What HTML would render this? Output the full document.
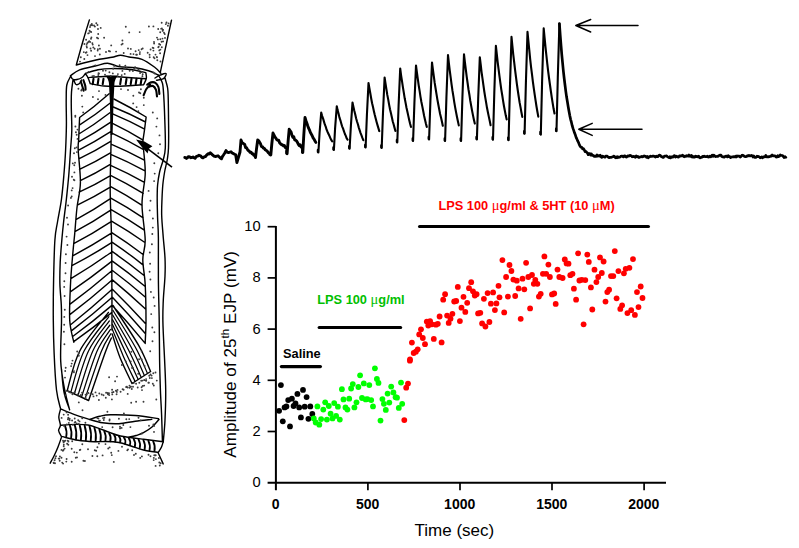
<!DOCTYPE html>
<html><head><meta charset="utf-8"><title>Figure</title>
<style>html,body{margin:0;padding:0;background:#fff}svg{display:block}</style></head>
<body>
<svg width="799" height="548" viewBox="0 0 799 548">
<rect width="799" height="548" fill="#fff"/>
<defs><filter id="soft" x="0" y="0" width="799" height="548" filterUnits="userSpaceOnUse"><feGaussianBlur stdDeviation="0.42"/></filter></defs>
<path d="M184.8,157.5 L185.7,157.6 L186.5,158.4 L187.5,157.6 L188.5,156.6 L189.8,157.0 L191.0,157.7 L192.0,157.5 L193.0,157.0 L194.0,157.8 L195.0,158.3 L196.2,156.6 L197.5,156.2 L199.0,155.3 L200.5,155.8 L201.8,157.3 L203.0,157.8 L204.2,156.8 L205.5,156.5 L206.8,154.8 L208.0,153.8 L209.2,154.0 L210.3,152.8 L211.4,153.8 L212.5,154.9 L214.0,156.2 L215.5,156.5 L216.8,156.1 L218.0,155.8 L219.8,157.5 L221.5,158.8 L222.5,156.4 L223.5,155.0 L224.8,153.0 L226.0,150.6 L227.2,152.1 L228.5,152.6 L229.8,152.2 L231.0,151.8 L232.2,153.0 L233.5,153.6 L234.6,154.3 L235.6,154.6 L236.2,158.0 L236.9,162.6 L240.0,152.0 L241.0,140.0 L241.9,142.1 L242.8,143.1 L243.7,143.8 L244.7,144.5 L245.6,147.5 L246.5,147.7 L247.4,149.3 L248.3,150.6 L249.2,151.1 L250.1,152.4 L251.0,152.1 L252.0,153.7 L252.9,153.6 L253.8,155.3 L254.7,155.8 L255.1,156.2 L255.5,157.5 L256.5,148.8 L257.7,140.0 L258.6,140.6 L259.6,142.2 L260.5,143.7 L261.5,146.6 L262.4,146.6 L263.4,148.1 L264.3,148.4 L265.3,149.8 L266.2,150.4 L267.2,151.2 L268.1,152.5 L269.1,153.2 L270.0,154.6 L270.4,154.9 L270.8,155.0 L271.8,144.0 L273.0,133.0 L273.9,134.9 L274.9,136.9 L275.8,138.1 L276.8,139.7 L277.7,140.2 L278.7,140.2 L279.6,142.7 L280.6,143.9 L281.5,144.7 L282.5,144.8 L283.4,145.9 L284.4,145.5 L285.3,147.6 L286.2,147.7 L286.6,148.7 L287.1,153.7 L288.1,141.4 L289.2,129.2 L290.2,130.7 L291.1,132.0 L292.0,135.4 L292.9,137.3 L293.8,136.8 L294.7,139.8 L295.6,140.2 L296.5,140.9 L297.4,142.3 L298.4,144.4 L299.3,145.7 L300.2,144.8 L301.1,146.9 L302.0,146.5 L302.4,148.7 L302.8,152.5 L303.8,135.0 L305.0,117.5 L305.9,120.5 L306.8,122.9 L307.7,125.8 L308.6,128.2 L309.5,130.1 L310.4,132.6 L311.3,134.1 L312.2,135.8 L313.1,137.9 L314.0,139.1 L314.9,140.8 L315.8,142.4" fill="none" stroke="#000" stroke-width="2.9" stroke-linejoin="round" stroke-linecap="round"/>
<path d="M318.4,152.5 L319.6,132.5 L321.2,112.5 L322.1,115.8 L323.1,118.6 L323.9,121.4 L324.9,124.7 L325.8,126.9 L326.6,129.7 L327.6,132.0 L328.4,133.7 L329.4,135.8 L330.2,137.7 L331.1,139.6 L332.1,141.3 M333.9,150.0 L335.1,128.1 L336.8,106.2 L337.6,110.1 L338.6,113.7 L339.4,117.4 L340.4,120.3 L341.2,123.2 L342.1,126.3 L343.1,128.6 L343.9,131.2 L344.9,134.0 L345.8,135.9 L346.6,138.1 L347.6,139.7 M349.6,148.7 L350.9,125.6 L352.5,102.5 L353.4,106.7 L354.3,110.8 L355.2,114.2 L356.1,118.2 L357.0,121.5 L357.9,124.3 L358.8,127.6 L359.7,130.3 L360.6,133.1 L361.5,135.4 L362.4,137.9 L363.3,140.2 M365.6,147.5 L366.9,115.2 L368.5,83.0 L369.4,88.1 L370.3,93.3 L371.2,98.5 L372.1,103.3 L373.0,107.1 L373.9,111.2 L374.8,115.1 L375.7,118.5 L376.6,121.9 L377.5,125.1 L378.4,128.1 L379.3,131.1 M381.7,148.0 L383.0,112.8 L384.6,77.5 L385.5,83.4 L386.4,89.2 L387.3,94.9 L388.2,99.4 L389.1,104.6 L390.0,109.2 L390.9,113.1 L391.8,117.0 L392.7,121.2 L393.6,124.3 L394.5,127.6 L395.4,131.0 M397.3,142.5 L398.6,105.5 L400.2,68.5 L401.1,75.3 L402.0,81.1 L402.9,87.2 L403.8,92.7 L404.7,98.3 L405.6,102.9 L406.5,107.8 L407.4,111.7 L408.3,115.9 L409.2,120.0 L410.1,123.8 L411.0,127.0 M413.1,141.0 L414.4,103.2 L416.0,65.5 L416.9,72.3 L417.8,78.8 L418.7,85.3 L419.6,90.9 L420.5,96.8 L421.4,102.0 L422.3,106.4 L423.2,111.0 L424.1,115.7 L425.0,119.7 L425.9,123.6 L426.8,126.9 M429.1,139.5 L430.4,101.0 L432.0,62.5 L432.9,69.4 L433.8,76.2 L434.7,82.9 L435.6,88.5 L436.5,94.2 L437.4,99.6 L438.3,104.5 L439.2,109.2 L440.1,114.0 L441.0,117.6 L441.9,121.5 L442.8,125.8 M445.1,141.0 L446.4,98.0 L448.0,55.0 L448.9,63.3 L449.8,70.9 L450.7,77.6 L451.6,84.6 L452.5,90.9 L453.4,96.3 L454.3,102.3 L455.2,107.6 L456.1,112.4 L457.0,117.0 L457.9,121.2 L458.8,125.4 M461.1,141.0 L462.4,97.7 L464.0,54.4 L464.9,62.0 L465.8,69.3 L466.7,76.6 L467.6,83.0 L468.5,89.5 L469.4,94.8 L470.3,100.9 L471.2,105.9 L472.1,110.9 L473.0,115.4 L473.9,119.7 L474.8,123.6 M476.9,139.5 L478.2,98.3 L479.8,57.2 L480.7,64.5 L481.6,72.3 L482.5,78.7 L483.4,85.2 L484.3,91.5 L485.2,97.1 L486.1,102.4 L487.0,107.8 L487.9,112.3 L488.8,116.6 L489.7,120.8 L490.6,125.2 M493.0,139.7 L494.3,92.8 L495.9,45.8 L496.8,54.2 L497.7,62.3 L498.6,69.4 L499.5,76.3 L500.4,83.1 L501.3,89.6 L502.2,95.0 L503.1,100.9 L504.0,106.2 L504.9,111.0 L505.8,115.6 L506.7,119.4 M508.6,140.2 L509.9,88.5 L511.5,36.8 L512.4,46.0 L513.3,54.8 L514.2,62.3 L515.1,70.1 L516.0,77.2 L516.9,84.2 L517.8,90.5 L518.7,96.5 L519.6,102.4 L520.5,107.1 L521.4,112.2 L522.3,116.9 M524.6,133.8 L525.9,82.8 L527.5,31.8 L528.4,41.2 L529.3,50.2 L530.2,59.4 L531.1,67.3 L532.0,74.4 L532.9,81.8 L533.8,88.4 L534.7,94.7 L535.6,100.7 L536.5,106.5 L537.4,111.8 L538.3,116.6 M540.8,134.6 L542.1,81.5 L543.7,28.4 L544.6,37.9 L545.5,47.1 L546.4,55.5 L547.3,63.9 L548.2,71.6 L549.1,78.5 L550.0,85.0 L550.9,91.5 L551.8,97.6 L552.7,103.4 L553.6,108.8 L554.5,113.5 M556.5,131.3 L557.8,77.5 L559.4,23.7" fill="none" stroke="#000" stroke-width="2.1" stroke-linejoin="round" stroke-linecap="round"/>
<path d="M559.4,23.7 L560.2,34.8 L561.0,45.2 L561.8,54.8 L562.6,63.2 L563.4,71.4 L564.2,78.5 L565.0,85.0 L565.8,91.4 L566.6,97.1 L567.4,101.8 L568.2,106.8 L569.0,111.2 L569.8,115.6 L570.6,119.3 L571.4,122.2 L572.2,125.7 L573.0,128.4 L573.8,130.6 L574.6,133.1 L575.4,135.1 L576.2,137.6 L577.0,139.3 L577.8,141.2 L578.6,142.7 L579.4,144.9 L580.2,146.4 L581.0,147.2 L581.8,147.3 L582.6,148.9 L583.4,148.6 L584.2,149.7 L585.0,151.6 L585.8,151.3 L586.6,152.2 L587.4,152.9 L588.2,154.7 L589.0,153.7 L589.8,153.6 L590.6,155.0 L591.4,153.8 L592.2,155.3 L593.0,155.4 L593.8,156.0 L594.6,156.5 L595.4,156.0 L596.2,156.4 L597.0,155.0 L597.8,156.1 L598.6,155.6 L599.4,156.0 L600.2,155.2 L601.0,156.7 L601.8,157.4 L602.6,156.1 L603.4,156.6 L604.2,156.9 L605.0,157.2 L605.8,156.1 L606.6,156.0 L607.4,156.3 L608.2,157.2 L609.0,157.7 L609.8,157.4 L610.6,157.4 L611.4,157.3 L612.2,157.0 L613.0,156.8 L613.8,156.1 L614.6,156.8 L615.4,157.7 L616.2,156.9 L617.0,157.7 L617.8,156.7 L618.6,157.5 L619.4,157.3 L620.2,156.8 L621.0,156.2 L621.8,156.0 L622.6,156.3 L623.4,156.9 L624.2,155.9 L625.0,155.9 L625.8,157.0 L626.6,157.1 L627.4,156.2 L628.2,155.8 L629.0,156.2 L629.8,155.3 L630.6,155.7 L631.4,155.9 L632.2,156.8 L633.0,156.5 L633.8,156.4 L634.6,157.0 L635.4,157.3 L636.2,156.0 L637.0,156.7 L637.8,156.4 L638.6,157.4 L639.4,157.3 L640.2,156.9 L641.0,156.9 L641.8,156.4 L642.6,156.9 L643.4,156.5 L644.2,155.9 L645.0,156.3 L645.8,156.3 L646.6,157.3 L647.4,156.4 L648.2,157.8 L649.0,156.8 L649.8,156.7 L650.6,156.1 L651.4,156.5 L652.2,156.4 L653.0,156.0 L653.8,156.0 L654.6,156.6 L655.4,157.0 L656.2,156.2 L657.0,156.6 L657.8,156.7 L658.6,155.7 L659.4,155.2 L660.2,155.3 L661.0,156.4 L661.8,156.6 L662.6,157.4 L663.4,157.4 L664.2,156.3 L665.0,156.1 L665.8,156.0 L666.6,155.8 L667.4,156.7 L668.2,157.1 L669.0,157.5 L669.8,156.7 L670.6,157.9 L671.4,156.9 L672.2,156.9 L673.0,157.2 L673.8,155.8 L674.6,155.7 L675.4,157.0 L676.2,156.2 L677.0,156.5 L677.8,157.0 L678.6,157.2 L679.4,155.8 L680.2,156.1 L681.0,155.9 L681.8,155.8 L682.6,155.2 L683.4,156.0 L684.2,156.8 L685.0,156.1 L685.8,156.4 L686.6,155.7 L687.4,155.8 L688.2,156.2 L689.0,155.0 L689.8,156.3 L690.6,156.5 L691.4,155.4 L692.2,157.1 L693.0,156.4 L693.8,157.2 L694.6,157.2 L695.4,156.2 L696.2,156.7 L697.0,156.5 L697.8,156.9 L698.6,156.1 L699.4,157.3 L700.2,157.9 L701.0,157.5 L701.8,157.3 L702.6,156.3 L703.4,156.7 L704.2,156.2 L705.0,156.7 L705.8,156.7 L706.6,156.6 L707.4,156.2 L708.2,157.1 L709.0,157.0 L709.8,156.1 L710.6,156.9 L711.4,156.2 L712.2,155.1 L713.0,156.4 L713.8,155.2 L714.6,155.8 L715.4,156.6 L716.2,156.5 L717.0,156.4 L717.8,156.4 L718.6,155.8 L719.4,155.4 L720.2,155.1 L721.0,155.1 L721.8,156.5 L722.6,156.9 L723.4,156.8 L724.2,157.2 L725.0,156.5 L725.8,156.2 L726.6,156.2 L727.4,156.9 L728.2,155.6 L729.0,156.6 L729.8,156.5 L730.6,157.6 L731.4,157.0 L732.2,156.9 L733.0,156.8 L733.8,156.7 L734.6,156.9 L735.4,156.1 L736.2,157.0 L737.0,155.9 L737.8,156.3 L738.6,156.1 L739.4,156.1 L740.2,157.0 L741.0,156.6 L741.8,155.4 L742.6,155.2 L743.4,155.5 L744.2,156.2 L745.0,156.6 L745.8,156.7 L746.6,156.5 L747.4,155.7 L748.2,155.9 L749.0,155.3 L749.8,155.8 L750.6,155.8 L751.4,155.4 L752.2,155.8 L753.0,157.0 L753.8,156.0 L754.6,157.4 L755.4,157.4 L756.2,157.3 L757.0,156.2 L757.8,156.4 L758.6,156.6 L759.4,156.9 L760.2,157.8 L761.0,157.5 L761.8,156.9 L762.6,157.8 L763.4,156.9 L764.2,156.8 L765.0,156.8 L765.8,155.4 L766.6,156.8 L767.4,156.8 L768.2,156.7 L769.0,156.8 L769.8,156.6 L770.6,155.9 L771.4,156.2 L772.2,155.0 L773.0,155.7 L773.8,155.9 L774.6,155.8 L775.4,156.2 L776.2,157.1 L777.0,157.0 L777.8,155.6 L778.6,156.6 L779.4,156.1 L780.2,155.0 L781.0,155.5 L781.8,155.5 L782.6,155.6 L783.4,156.7 L784.2,157.6 L785.0,156.6 L785.8,157.4" fill="none" stroke="#000" stroke-width="2.7" stroke-linejoin="round" stroke-linecap="round"/>
<path d="M286.4,151.4V153.6 M302.2,150.2V152.4 M317.9,149.9V152.1 M333.4,147.4V149.6 M349.2,146.1V148.3 M365.2,144.9V147.1 M381.3,145.4V147.6 M396.9,139.9V142.1 M412.7,138.4V140.6 M428.7,136.9V139.1 M444.7,138.4V140.6 M460.7,138.4V140.6 M476.5,136.9V139.1 M492.6,137.1V139.3 M508.2,137.6V139.8 M524.2,131.2V133.4 M540.4,132.0V134.2 M556.1,128.7V130.9" fill="none" stroke="#000" stroke-width="2.3" stroke-linecap="round"/>
<g fill="none" stroke="#000" stroke-width="1.5" stroke-linecap="round" stroke-linejoin="round">
<path d="M638,25.5 H576 M590.7,19.5 L575.8,25.5 L590.7,32"/>
<path d="M642,129.2 H579 M592.2,123.4 L578.8,129.2 L592.2,135.4"/>
</g>
<g stroke="#000" fill="none">
<path d="M275.9,226 V490.2" stroke-width="2"/>
<path d="M267.6,482.7 H666" stroke-width="2"/>
<path d="M267.6,431.5 H275.9" stroke-width="1.7"/>
<path d="M267.6,380.3 H275.9" stroke-width="1.7"/>
<path d="M267.6,329.1 H275.9" stroke-width="1.7"/>
<path d="M267.6,277.9 H275.9" stroke-width="1.7"/>
<path d="M267.6,226.7 H275.9" stroke-width="1.7"/>
<path d="M367.9,482.7 V490.2" stroke-width="1.7"/>
<path d="M460.0,482.7 V490.2" stroke-width="1.7"/>
<path d="M552.0,482.7 V490.2" stroke-width="1.7"/>
<path d="M644.1,482.7 V490.2" stroke-width="1.7"/>
</g>
<g font-family="&quot;Liberation Sans&quot;, Arial, sans-serif" fill="#000">
<text x="260.6" y="487.2" font-size="14.7" text-anchor="end">0</text>
<text x="260.6" y="436.0" font-size="14.7" text-anchor="end">2</text>
<text x="260.6" y="384.8" font-size="14.7" text-anchor="end">4</text>
<text x="260.6" y="333.6" font-size="14.7" text-anchor="end">6</text>
<text x="260.6" y="282.4" font-size="14.7" text-anchor="end">8</text>
<text x="260.6" y="231.2" font-size="14.7" text-anchor="end">10</text>
<text x="275.6" y="509.2" font-size="14" font-weight="bold" text-anchor="middle">0</text>
<text x="367.6" y="509.2" font-size="14" font-weight="bold" text-anchor="middle">500</text>
<text x="459.7" y="509.2" font-size="14" font-weight="bold" text-anchor="middle">1000</text>
<text x="551.8" y="509.2" font-size="14" font-weight="bold" text-anchor="middle">1500</text>
<text x="643.8" y="509.2" font-size="14" font-weight="bold" text-anchor="middle">2000</text>
<text x="454.4" y="536" font-size="17" text-anchor="middle">Time (sec)</text>
<text transform="translate(236.3,354.3) rotate(-90)" font-size="17" letter-spacing="0.07" text-anchor="middle">Amplitude of 25<tspan font-size="11.5" dy="-7.6">th</tspan><tspan dy="7.6"> EJP (mV)</tspan></text>
<text x="283" y="357.8" font-size="12.8" font-weight="bold">Saline</text>
<text x="317.2" y="303.5" font-size="12.8" font-weight="bold" fill="#00c000">LPS 100 <tspan font-family="&quot;Liberation Serif&quot;, serif" font-weight="normal" font-size="14.5">μ</tspan>g/ml</text>
<text x="438.4" y="209.8" font-size="12.8" font-weight="bold" fill="#ff0000">LPS 100 <tspan font-family="&quot;Liberation Serif&quot;, serif" font-weight="normal" font-size="14.5">μ</tspan>g/ml &amp; 5HT (10 <tspan font-family="&quot;Liberation Serif&quot;, serif" font-weight="normal" font-size="14.5">μ</tspan>M)</text>
</g>
<g stroke="#000" stroke-width="3.2" stroke-linecap="round">
<path d="M281.4,366.6 H320.4"/>
<path d="M319.2,327.5 H400.6"/>
<path d="M419.6,226.5 H648.4"/>
</g>
<g fill="#000"><circle cx="280.9" cy="385.1" r="2.9"/><circle cx="279.1" cy="410.8" r="2.9"/><circle cx="282.8" cy="421.3" r="2.9"/><circle cx="284.6" cy="407.4" r="2.9"/><circle cx="286.4" cy="406.4" r="2.9"/><circle cx="288.2" cy="400.1" r="2.9"/><circle cx="290.0" cy="426.4" r="2.9"/><circle cx="291.9" cy="398.7" r="2.9"/><circle cx="293.6" cy="406.0" r="2.9"/><circle cx="295.5" cy="403.5" r="2.9"/><circle cx="297.4" cy="393.9" r="2.9"/><circle cx="299.2" cy="407.4" r="2.9"/><circle cx="300.9" cy="417.4" r="2.9"/><circle cx="303.0" cy="389.9" r="2.9"/><circle cx="304.7" cy="406.7" r="2.9"/><circle cx="306.6" cy="397.1" r="2.9"/><circle cx="308.4" cy="418.8" r="2.9"/><circle cx="310.3" cy="406.4" r="2.9"/><circle cx="312.3" cy="414.0" r="2.9"/></g>
<g fill="#00ff00"><circle cx="313.8" cy="418.4" r="2.9"/><circle cx="315.7" cy="422.5" r="2.9"/><circle cx="317.4" cy="406.4" r="2.9"/><circle cx="319.3" cy="424.7" r="2.9"/><circle cx="321.1" cy="419.1" r="2.9"/><circle cx="323.3" cy="409.6" r="2.9"/><circle cx="325.2" cy="402.3" r="2.9"/><circle cx="326.9" cy="419.6" r="2.9"/><circle cx="328.8" cy="406.0" r="2.9"/><circle cx="330.6" cy="413.7" r="2.9"/><circle cx="332.5" cy="418.4" r="2.9"/><circle cx="334.2" cy="403.1" r="2.9"/><circle cx="336.1" cy="415.9" r="2.9"/><circle cx="337.9" cy="406.7" r="2.9"/><circle cx="339.8" cy="419.6" r="2.9"/><circle cx="341.9" cy="389.2" r="2.9"/><circle cx="343.5" cy="399.4" r="2.9"/><circle cx="345.5" cy="407.4" r="2.9"/><circle cx="347.4" cy="409.6" r="2.9"/><circle cx="349.2" cy="398.7" r="2.9"/><circle cx="351.1" cy="388.5" r="2.9"/><circle cx="352.8" cy="384.1" r="2.9"/><circle cx="354.4" cy="407.4" r="2.9"/><circle cx="356.5" cy="402.3" r="2.9"/><circle cx="358.4" cy="387.0" r="2.9"/><circle cx="360.1" cy="375.3" r="2.9"/><circle cx="362.0" cy="398.0" r="2.9"/><circle cx="363.8" cy="383.4" r="2.9"/><circle cx="365.7" cy="399.4" r="2.9"/><circle cx="367.4" cy="399.1" r="2.9"/><circle cx="369.3" cy="385.1" r="2.9"/><circle cx="371.2" cy="400.1" r="2.9"/><circle cx="373.0" cy="406.4" r="2.9"/><circle cx="374.9" cy="368.3" r="2.9"/><circle cx="376.9" cy="379.0" r="2.9"/><circle cx="378.5" cy="382.9" r="2.9"/><circle cx="380.5" cy="420.6" r="2.9"/><circle cx="382.4" cy="399.1" r="2.9"/><circle cx="383.9" cy="403.8" r="2.9"/><circle cx="385.8" cy="409.9" r="2.9"/><circle cx="387.6" cy="393.6" r="2.9"/><circle cx="389.3" cy="402.6" r="2.9"/><circle cx="391.2" cy="386.6" r="2.9"/><circle cx="393.4" cy="392.4" r="2.9"/><circle cx="395.6" cy="397.2" r="2.9"/><circle cx="397.0" cy="397.7" r="2.9"/><circle cx="398.8" cy="407.9" r="2.9"/><circle cx="402.2" cy="403.8" r="2.9"/><circle cx="401.0" cy="382.6" r="2.9"/></g>
<g fill="#ff0000"><circle cx="404.3" cy="420.1" r="2.9"/><circle cx="406.2" cy="387.7" r="2.9"/><circle cx="408.0" cy="383.6" r="2.9"/><circle cx="409.9" cy="360.7" r="2.9"/><circle cx="410.0" cy="359.4" r="2.9"/><circle cx="411.9" cy="342.6" r="2.9"/><circle cx="413.7" cy="353.0" r="2.9"/><circle cx="415.9" cy="351.7" r="2.9"/><circle cx="417.7" cy="349.3" r="2.9"/><circle cx="419.2" cy="334.4" r="2.9"/><circle cx="421.0" cy="329.3" r="2.9"/><circle cx="422.8" cy="338.0" r="2.9"/><circle cx="425.0" cy="344.2" r="2.9"/><circle cx="426.8" cy="321.6" r="2.9"/><circle cx="428.3" cy="325.6" r="2.9"/><circle cx="430.1" cy="321.1" r="2.9"/><circle cx="431.9" cy="324.3" r="2.9"/><circle cx="433.8" cy="338.9" r="2.9"/><circle cx="435.9" cy="324.7" r="2.9"/><circle cx="437.8" cy="323.8" r="2.9"/><circle cx="439.6" cy="316.5" r="2.9"/><circle cx="441.6" cy="342.4" r="2.9"/><circle cx="443.2" cy="299.7" r="2.9"/><circle cx="445.1" cy="294.2" r="2.9"/><circle cx="447.1" cy="315.6" r="2.9"/><circle cx="448.7" cy="322.9" r="2.9"/><circle cx="450.5" cy="318.7" r="2.9"/><circle cx="452.4" cy="313.8" r="2.9"/><circle cx="454.2" cy="301.5" r="2.9"/><circle cx="456.2" cy="301.0" r="2.9"/><circle cx="457.8" cy="286.9" r="2.9"/><circle cx="459.9" cy="321.1" r="2.9"/><circle cx="461.5" cy="307.7" r="2.9"/><circle cx="463.5" cy="296.8" r="2.9"/><circle cx="465.3" cy="311.9" r="2.9"/><circle cx="467.2" cy="302.8" r="2.9"/><circle cx="469.0" cy="288.2" r="2.9"/><circle cx="471.2" cy="282.2" r="2.9"/><circle cx="473.0" cy="291.3" r="2.9"/><circle cx="474.8" cy="295.5" r="2.9"/><circle cx="476.6" cy="294.2" r="2.9"/><circle cx="478.1" cy="313.4" r="2.9"/><circle cx="480.3" cy="312.8" r="2.9"/><circle cx="482.1" cy="323.4" r="2.9"/><circle cx="483.9" cy="298.8" r="2.9"/><circle cx="485.4" cy="326.5" r="2.9"/><circle cx="487.6" cy="293.1" r="2.9"/><circle cx="489.4" cy="322.0" r="2.9"/><circle cx="490.9" cy="303.7" r="2.9"/><circle cx="493.1" cy="292.4" r="2.9"/><circle cx="494.9" cy="310.1" r="2.9"/><circle cx="496.4" cy="303.4" r="2.9"/><circle cx="498.5" cy="285.8" r="2.9"/><circle cx="499.5" cy="297.3" r="2.9"/><circle cx="502.4" cy="260.1" r="2.9"/><circle cx="504.2" cy="312.4" r="2.9"/><circle cx="506.1" cy="277.0" r="2.9"/><circle cx="507.9" cy="296.6" r="2.9"/><circle cx="509.5" cy="265.0" r="2.9"/><circle cx="511.4" cy="271.0" r="2.9"/><circle cx="513.4" cy="279.6" r="2.9"/><circle cx="515.2" cy="296.0" r="2.9"/><circle cx="516.8" cy="280.7" r="2.9"/><circle cx="518.6" cy="288.4" r="2.9"/><circle cx="520.7" cy="318.8" r="2.9"/><circle cx="522.5" cy="278.7" r="2.9"/><circle cx="524.3" cy="289.3" r="2.9"/><circle cx="526.1" cy="262.8" r="2.9"/><circle cx="528.3" cy="277.0" r="2.9"/><circle cx="530.1" cy="308.4" r="2.9"/><circle cx="532.0" cy="275.0" r="2.9"/><circle cx="533.8" cy="283.8" r="2.9"/><circle cx="535.3" cy="279.8" r="2.9"/><circle cx="537.4" cy="283.8" r="2.9"/><circle cx="538.9" cy="296.6" r="2.9"/><circle cx="540.7" cy="293.8" r="2.9"/><circle cx="542.9" cy="273.8" r="2.9"/><circle cx="544.4" cy="256.4" r="2.9"/><circle cx="546.2" cy="273.8" r="2.9"/><circle cx="548.4" cy="264.6" r="2.9"/><circle cx="549.9" cy="277.0" r="2.9"/><circle cx="552.0" cy="294.4" r="2.9"/><circle cx="554.2" cy="293.5" r="2.9"/><circle cx="555.7" cy="303.9" r="2.9"/><circle cx="557.5" cy="269.6" r="2.9"/><circle cx="559.3" cy="277.0" r="2.9"/><circle cx="562.6" cy="278.0" r="2.9"/><circle cx="564.8" cy="259.5" r="2.9"/><circle cx="566.6" cy="263.4" r="2.9"/><circle cx="568.5" cy="263.7" r="2.9"/><circle cx="570.3" cy="275.2" r="2.9"/><circle cx="572.5" cy="273.8" r="2.9"/><circle cx="573.9" cy="288.7" r="2.9"/><circle cx="576.1" cy="299.7" r="2.9"/><circle cx="578.1" cy="253.3" r="2.9"/><circle cx="579.4" cy="280.5" r="2.9"/><circle cx="581.8" cy="279.8" r="2.9"/><circle cx="583.6" cy="324.3" r="2.9"/><circle cx="585.3" cy="280.1" r="2.9"/><circle cx="587.3" cy="254.6" r="2.9"/><circle cx="588.8" cy="261.9" r="2.9"/><circle cx="590.9" cy="287.4" r="2.9"/><circle cx="592.3" cy="309.5" r="2.9"/><circle cx="594.5" cy="269.7" r="2.9"/><circle cx="596.4" cy="282.1" r="2.9"/><circle cx="598.2" cy="277.0" r="2.9"/><circle cx="600.0" cy="257.4" r="2.9"/><circle cx="601.8" cy="273.0" r="2.9"/><circle cx="603.6" cy="261.5" r="2.9"/><circle cx="605.5" cy="301.6" r="2.9"/><circle cx="607.3" cy="292.1" r="2.9"/><circle cx="609.1" cy="289.7" r="2.9"/><circle cx="611.0" cy="276.1" r="2.9"/><circle cx="613.3" cy="276.1" r="2.9"/><circle cx="614.8" cy="251.1" r="2.9"/><circle cx="616.6" cy="298.3" r="2.9"/><circle cx="618.4" cy="271.1" r="2.9"/><circle cx="620.3" cy="308.9" r="2.9"/><circle cx="622.1" cy="305.3" r="2.9"/><circle cx="623.9" cy="273.3" r="2.9"/><circle cx="625.7" cy="268.8" r="2.9"/><circle cx="627.4" cy="313.1" r="2.9"/><circle cx="629.4" cy="267.8" r="2.9"/><circle cx="631.2" cy="310.2" r="2.9"/><circle cx="633.0" cy="259.1" r="2.9"/><circle cx="634.9" cy="314.9" r="2.9"/><circle cx="637.0" cy="292.1" r="2.9"/><circle cx="638.5" cy="307.1" r="2.9"/><circle cx="640.7" cy="286.5" r="2.9"/><circle cx="642.5" cy="298.0" r="2.9"/></g>
<g filter="url(#soft)">
<g fill="none" stroke="#000" stroke-width="1.42" stroke-linecap="round" stroke-linejoin="round">
<path d="M89.4,19.9 C88.3,23.4 85.2,33.5 83.0,41.0 C80.8,48.5 77.4,61.0 76.3,65.0 M171.5,20.2 C170.7,24.0 168.5,34.1 166.6,42.8 C164.7,51.5 161.4,67.5 160.3,72.4 M76.3,65.0 C80.1,64.0 93.3,60.6 99.3,59.3 C105.2,58.0 108.5,58.0 112.0,57.3 C115.5,56.6 117.8,55.2 120.6,55.2 C123.4,55.2 125.4,56.3 129.0,57.0 C132.6,57.7 137.7,57.5 142.0,59.3 C146.3,61.0 151.9,65.2 155.0,67.5 C158.1,69.8 159.8,72.2 160.8,73.2 M70.5,75.7 C72.0,74.7 75.3,71.6 79.6,69.9 C83.8,68.2 91.3,66.9 96.0,65.8 C100.7,64.7 103.7,63.1 107.5,63.2 C111.3,63.3 114.3,65.8 119.0,66.6 C123.7,67.4 130.5,67.1 135.4,67.8 C140.3,68.5 144.7,69.6 148.5,70.8 C152.3,72.0 156.8,74.3 158.4,75.0 M85.3,73.6 C87.4,73.0 93.7,70.6 98.0,69.8 C102.3,69.0 105.7,68.6 111.0,68.6 C116.3,68.5 124.2,68.8 130.0,69.5 C135.8,70.2 143.2,72.1 145.8,72.6 M85.3,73.6 C85.7,74.2 87.0,75.6 87.8,77.3 C88.6,79.0 89.8,82.5 90.2,83.6 M145.8,72.6 C145.9,73.6 146.7,76.5 146.3,78.5 C145.9,80.5 144.1,83.7 143.6,84.7 M87.8,77.6 C90.7,77.4 100.0,76.6 105.0,76.5 C110.0,76.4 111.2,76.4 118.0,76.8 C124.8,77.2 141.3,78.5 146.0,78.8 M90.2,83.6 C92.5,84.0 99.0,85.6 104.0,86.0 C109.0,86.4 113.4,86.4 120.0,86.2 C126.6,86.0 139.7,85.0 143.6,84.7 M70.5,75.7 C70.8,76.2 71.4,78.4 72.5,79.0 C73.6,79.6 75.4,79.8 77.0,79.5 C78.6,79.2 80.6,78.5 82.0,77.5 C83.4,76.5 84.8,74.2 85.3,73.6 M74.0,80.5 C74.3,81.2 75.1,84.0 76.0,84.5 C76.9,85.0 78.6,84.2 79.5,83.5 C80.4,82.8 81.2,80.6 81.5,80.0 M155.0,78.0 C155.8,77.5 158.2,75.9 160.0,75.2 C161.8,74.5 165.4,73.0 166.0,73.6 C166.6,74.2 165.1,77.5 163.5,78.6 C161.9,79.7 157.7,79.9 156.5,80.2 M70.5,76.5 C69.9,77.9 67.5,81.1 66.8,85.0 C66.1,88.9 66.3,93.3 66.2,100.0 C66.1,106.7 66.5,116.7 66.4,125.0 C66.3,133.3 66.0,141.5 65.6,150.0 C65.2,158.5 64.5,167.8 63.8,176.0 C63.1,184.2 62.5,191.3 61.5,199.0 C60.5,206.7 58.6,215.2 57.5,222.0 C56.4,228.8 55.5,230.3 54.9,240.0 C54.2,249.7 53.9,266.7 53.6,280.0 C53.3,293.3 53.2,307.9 53.3,320.0 C53.4,332.1 53.6,341.1 54.1,352.8 C54.6,364.5 55.4,380.6 56.5,390.0 C57.6,399.4 59.9,405.8 60.6,408.9 M73.0,79.8 C72.8,81.8 71.8,87.6 71.5,92.0 C71.2,96.4 71.2,99.7 71.3,106.0 C71.3,112.3 71.9,122.7 71.8,130.0 C71.7,137.3 71.0,142.3 70.5,150.0 C70.0,157.7 69.4,167.8 68.7,176.0 C68.0,184.2 67.2,191.3 66.4,199.0 C65.6,206.7 64.3,215.5 63.6,222.0 C62.9,228.5 62.6,231.3 62.0,238.0 C61.4,244.7 60.6,254.3 60.2,262.0 C59.9,269.7 59.7,276.8 59.9,284.0 C60.1,291.2 61.0,298.7 61.3,305.0 C61.6,311.3 61.6,312.7 61.5,322.0 C61.4,331.3 60.2,349.7 60.7,361.0 C61.2,372.3 63.2,381.9 64.7,390.0 C66.2,398.1 68.8,406.4 69.6,409.7 M158.4,75.0 C159.0,76.2 161.2,79.6 162.0,82.0 C162.8,84.4 162.8,83.3 163.3,89.6 C163.8,95.9 164.5,110.3 164.8,120.0 C165.1,129.7 165.6,141.3 165.3,148.0 C165.0,154.7 164.1,156.0 163.2,160.0 C162.2,164.0 160.5,167.8 159.6,172.0 C158.7,176.2 158.0,180.5 157.6,185.0 C157.2,189.5 157.2,193.5 157.2,199.0 C157.2,204.5 157.4,211.5 157.6,218.0 C157.8,224.5 158.3,227.7 158.4,238.0 C158.5,248.3 158.3,266.3 158.4,280.0 C158.5,293.7 159.0,306.7 159.2,320.0 C159.4,333.3 159.4,348.3 159.6,360.0 C159.8,371.7 160.1,380.8 160.4,390.0 C160.7,399.2 161.3,406.6 161.6,415.0 C161.9,423.4 162.3,436.2 162.4,440.5 M165.0,78.0 C165.4,79.7 167.1,84.7 167.6,88.0 C168.1,91.3 168.0,91.6 168.2,97.8 C168.4,104.0 168.5,116.6 168.6,125.0 C168.7,133.4 168.7,142.2 168.5,148.0 C168.3,153.8 167.8,156.0 167.2,160.0 C166.5,164.0 165.3,167.8 164.6,172.0 C163.9,176.2 163.2,180.5 162.8,185.0 C162.4,189.5 162.2,193.9 162.0,199.0 C161.8,204.1 161.5,209.2 161.7,215.7 C161.9,222.2 162.8,230.9 163.3,238.0 C163.9,245.1 164.7,251.7 165.0,258.0 C165.3,264.3 165.3,269.0 165.0,276.0 C164.7,283.0 163.7,292.3 163.3,300.0 C163.0,307.7 162.7,312.0 162.9,322.0 C163.1,332.0 164.1,348.7 164.6,360.0 C165.1,371.3 165.6,380.0 165.7,390.0 C165.8,400.0 165.4,411.2 165.0,420.0 C164.6,428.8 163.5,438.8 163.2,442.5 M61.5,369.0 C61.9,372.8 62.6,385.2 64.0,392.0 C65.3,398.8 68.7,406.8 69.6,409.7 M111.6,114.0 C111.5,120.0 111.1,137.2 110.9,150.0 C110.7,162.8 110.1,176.0 110.2,191.0 C110.3,206.0 111.3,223.5 111.6,240.0 C111.9,256.5 111.8,275.0 111.9,290.0 C112.0,305.0 112.0,323.3 112.0,330.0 M79.6,117.5 C79.4,121.1 78.9,133.5 78.7,138.9 C78.5,144.3 77.9,142.7 78.2,150.0 C78.5,157.3 80.6,173.2 80.4,182.8 C80.2,192.4 78.0,198.8 77.0,207.5 C76.0,216.2 75.3,227.7 74.6,235.0 C73.9,242.3 73.7,243.2 73.0,251.4 C72.3,259.6 71.0,272.9 70.5,284.3 C70.0,295.7 69.2,310.4 69.7,320.0 C70.2,329.6 73.1,338.5 73.8,342.2 M146.1,117.5 C145.8,119.7 144.9,126.6 144.4,130.7 C143.9,134.8 142.9,139.0 142.8,142.2 C142.7,145.4 143.2,144.6 143.6,150.0 C144.0,155.4 145.5,165.6 145.2,174.6 C144.9,183.6 142.0,193.3 142.0,204.2 C142.0,215.1 145.1,230.8 145.2,240.0 C145.3,249.2 142.8,252.2 142.8,259.6 C142.8,267.0 144.7,274.2 145.2,284.3 C145.7,294.4 146.0,310.2 146.0,320.0 C146.0,329.8 145.3,339.2 145.2,343.0 M109.1,93.7 Q94.3,106.9 79.6,117.5 M109.9,103.2 Q94.6,115.5 79.3,125.2 M109.9,112.7 Q94.4,124.6 78.9,134.0 M110.8,122.2 Q94.7,133.3 78.6,141.8 M110.7,131.7 Q94.4,142.3 78.2,150.3 M111.1,141.2 Q94.9,151.4 78.8,158.9 M110.9,152.7 Q95.2,162.3 79.5,169.3 M110.7,164.2 Q95.5,173.7 80.3,180.6 M110.5,175.7 Q94.8,185.2 79.1,192.2 M110.3,187.2 Q93.8,197.4 77.3,205.1 M110.4,198.7 Q93.2,210.5 75.9,219.6 M110.7,210.2 Q92.8,222.3 74.9,231.7 M111.1,221.7 Q92.4,234.0 73.7,243.7 M111.4,233.2 Q92.0,245.8 72.7,255.8 M111.6,242.6 Q91.8,255.4 71.9,265.6 M111.7,252.0 Q91.3,266.6 70.9,278.6 M111.7,261.4 Q91.0,277.9 70.3,291.8 M111.8,270.8 Q90.9,288.8 70.1,304.1 M111.8,280.2 Q90.8,298.7 69.8,314.6 M111.9,289.6 Q91.2,308.5 70.6,324.8 M111.9,297.5 Q91.8,315.4 71.7,330.6 M111.9,305.4 Q92.3,322.2 72.7,336.5 M112.0,312.4 Q92.8,328.3 73.7,341.6 M113.9,99.0 Q130.0,107.0 146.1,117.0 M113.3,107.0 Q129.4,113.5 145.5,122.0 M113.2,114.1 Q128.9,120.6 144.6,129.1 M112.0,123.1 Q127.6,130.6 143.1,140.1 M111.8,133.2 Q127.7,140.5 143.6,149.7 M111.0,144.2 Q127.6,151.2 144.3,160.2 M110.8,154.3 Q127.9,161.5 145.0,170.8 M110.6,165.3 Q127.5,172.8 144.4,182.3 M110.5,175.3 Q126.8,183.3 143.2,193.3 M110.3,186.4 Q126.2,194.9 142.1,205.4 M110.4,197.9 Q126.8,206.8 143.2,217.8 M110.7,209.4 Q127.5,218.8 144.3,230.1 M111.1,220.9 Q128.0,230.7 144.9,242.5 M111.4,232.4 Q127.4,242.6 143.4,254.8 M111.6,241.8 Q127.5,252.4 143.3,265.1 M111.7,251.2 Q128.0,262.5 144.4,275.8 M111.7,260.6 Q128.5,272.5 145.2,286.5 M111.8,270.0 Q128.6,282.6 145.5,297.2 M111.8,279.4 Q128.8,293.4 145.8,309.3 M111.9,288.8 Q128.9,305.5 145.9,324.1 M111.9,296.7 Q128.7,314.2 145.5,333.8 M111.9,305.0 Q128.6,323.2 145.2,343.4 M108.4,312.4 C103.7,318.8 86.9,337.5 80.0,350.5 C73.1,363.5 69.3,383.9 67.2,390.6 M111.4,338.0 C110.4,340.3 109.2,341.6 105.4,352.0 C101.6,362.4 91.4,392.4 88.6,400.5 M67.2,390.6 L88.6,400.5 M113.0,305.5 C117.2,312.1 132.2,334.2 138.5,345.2 C144.8,356.2 148.6,367.1 150.6,371.5 M112.2,334.0 C113.5,338.0 116.9,349.8 120.2,358.0 C123.5,366.2 130.0,379.2 132.0,383.5 M150.6,371.5 L132.0,383.5 M60.6,408.9 C62.9,409.8 69.8,412.9 74.6,414.6 C79.4,416.4 86.8,418.6 89.3,419.4 M60.6,408.9 C60.3,410.2 58.8,414.3 58.8,417.0 C58.8,419.7 60.4,423.1 60.4,425.3 C60.4,427.6 58.4,428.6 58.6,430.5 C58.8,432.4 60.9,435.4 61.4,436.4 M60.4,425.3 C62.8,425.1 70.4,424.4 75.0,424.4 C79.6,424.3 84.2,424.4 88.0,425.0 C91.8,425.6 94.0,426.6 97.5,427.8 C101.0,429.0 105.2,430.8 109.0,432.2 C112.8,433.6 114.8,434.8 120.5,436.0 C126.2,437.2 136.4,438.4 143.5,439.3 C150.6,440.2 159.9,441.3 163.2,441.7 M61.4,436.4 C64.2,437.0 72.5,439.4 78.0,440.3 C83.5,441.2 89.6,441.5 94.3,441.7 C99.0,441.9 101.9,441.4 106.0,441.5 C110.1,441.6 114.7,441.8 118.9,442.5 C123.1,443.2 126.9,444.8 131.0,446.0 C135.1,447.2 138.9,448.9 143.5,450.0 C148.1,451.1 155.8,452.0 158.3,452.4 M163.2,441.7 C162.9,442.6 162.3,445.2 161.5,447.0 C160.7,448.8 158.8,451.5 158.3,452.4 M89.3,419.4 C91.1,418.9 96.4,417.0 100.0,416.2 C103.6,415.4 104.8,414.9 110.7,414.8 C116.6,414.7 127.3,414.9 135.3,415.5 C143.3,416.1 154.7,418.2 158.6,418.7 M89.3,419.4 C91.5,420.0 97.6,422.1 102.5,422.8 C107.4,423.5 113.4,424.0 118.9,423.7 C124.4,423.4 129.8,421.9 135.3,421.2 C140.8,420.5 149.0,419.7 151.7,419.4 M159.0,419.4 C157.8,420.7 154.6,424.8 152.0,427.0 C149.4,429.2 146.0,431.3 143.5,432.7 C141.0,434.1 139.6,434.4 137.0,435.2 C134.4,435.9 129.5,436.9 128.0,437.2 M61.4,437.6 C60.8,439.2 59.2,443.9 58.0,447.0 C56.8,450.1 55.3,453.3 54.0,456.0 C52.7,458.7 50.8,462.0 50.2,463.2 M158.3,453.2 C158.7,454.0 159.7,456.2 160.5,458.0 C161.3,459.8 162.8,462.9 163.2,463.9"/>
</g>
<path d="M108.9,316.7 C104.8,322.3 90.6,338.2 84.2,350.8 C77.9,363.3 73.0,385.3 70.8,392.2 M109.4,320.9 C105.9,325.9 94.3,338.8 88.5,351.0 C82.6,363.2 76.7,386.8 74.3,393.9 M109.9,325.2 C107.0,329.5 98.0,339.5 92.7,351.2 C87.4,363.0 80.4,388.2 77.9,395.6 M110.4,329.5 C108.2,333.1 101.8,340.2 96.9,351.5 C92.1,362.8 84.0,389.6 81.5,397.2 M110.9,333.7 C109.3,336.7 105.5,340.9 101.2,351.8 C96.9,362.6 87.7,391.0 85.0,398.9 M112.9,310.2 C116.6,316.4 129.7,336.8 135.4,347.3 C141.2,357.9 145.5,369.1 147.5,373.5 M112.7,315.0 C116.0,320.7 127.1,339.4 132.4,349.5 C137.7,359.5 142.4,371.2 144.4,375.5 M112.6,319.8 C115.4,325.1 124.6,342.0 129.3,351.6 C134.1,361.2 139.3,373.2 141.3,377.5 M112.5,324.5 C114.8,329.4 122.0,344.6 126.3,353.7 C130.6,362.9 136.2,375.2 138.2,379.5 M112.3,329.2 C114.2,333.7 119.5,347.2 123.2,355.9 C127.0,364.6 133.1,377.2 135.1,381.5" fill="none" stroke="#000" stroke-width="1.25" stroke-linecap="round"/>
<path d="M93.5,78.8 L92.7,84.2 M98.5,78.8 L97.7,84.2 M103.5,78.8 L102.7,84.2 M121.0,78.8 L120.2,84.2 M126.5,78.8 L125.7,84.2 M131.5,78.8 L130.7,84.2 M136.5,78.8 L135.7,84.2 M141.5,78.8 L140.7,84.2 M80.8,81.5 C81.1,82.3 81.9,85.0 82.4,86.5 C82.9,88.0 83.4,90.1 83.6,90.8 M83.4,80.2 C83.7,81.1 84.8,83.9 85.2,85.5 C85.6,87.1 85.5,88.9 85.6,89.6 M147.2,84.6 C147.8,84.2 149.6,82.7 151.0,82.4 C152.4,82.1 154.2,82.0 155.4,82.8 C156.6,83.6 157.7,85.1 158.4,87.0 C159.1,88.9 159.2,92.8 159.4,94.0 M143.6,95.2 C144.1,94.2 145.3,90.7 146.4,89.0 C147.5,87.3 149.6,85.5 150.2,84.8 M149.4,86.6 C150.0,86.5 151.9,85.5 153.0,86.0 C154.1,86.5 155.3,88.1 156.0,89.8 C156.7,91.5 156.8,95.3 157.0,96.4" fill="none" stroke="#000" stroke-width="2.1" stroke-linecap="round"/>
<path d="M65.0,425.8 Q67.4,431.3 66.2,437.0 M69.9,425.5 Q72.3,431.7 71.1,438.1 M74.8,425.2 Q77.2,432.2 76.0,439.3 M79.7,425.4 Q82.1,432.6 80.9,440.0 M84.6,425.6 Q87.0,432.9 85.8,440.4 M89.5,426.2 Q91.9,433.4 90.7,440.8 M94.4,427.7 Q96.8,434.3 95.6,441.1 M99.3,429.3 Q101.7,435.0 100.5,441.0 M104.2,431.2 Q106.6,435.9 105.4,440.9 M109.1,433.0 Q111.5,437.0 110.3,441.3 M114.0,434.7 Q116.4,438.0 115.2,441.6 M118.9,436.3 Q121.3,439.2 120.1,442.3 M123.8,437.3 Q126.2,440.4 125.0,443.8 M128.7,438.0 Q131.1,441.5 129.9,445.2 M133.6,438.7 Q136.0,442.6 134.8,446.7 M138.5,439.4 Q140.9,443.7 139.7,448.3 M143.4,440.1 Q145.8,444.8 144.6,449.6 M148.3,440.7 Q150.7,445.5 149.5,450.4 M153.2,441.3 Q155.6,446.1 154.4,451.2" fill="none" stroke="#000" stroke-width="1.8" stroke-linecap="round"/>
<path d="M105.2,75.4 L118,75.4 Q114.8,78.5 114.4,84 L113.5,102 L112.6,135 L110.6,135 L109.9,102 L109,84 Q108.6,78.5 105.2,75.4 Z" fill="#000"/>
<path d="M172,167.1 L147.5,148.6" stroke="#000" stroke-width="1.6" fill="none"/>
<path d="M136,139.4 L144.4,141.4 L152.4,146.2 L148.8,148.8 L147.6,153.6 L141.4,146.6 Z" fill="#000"/>
<path d="M121.5,44.6h.01M93.3,47.4h.01M80.0,61.6h.01M148.9,26.5h.01M163.1,29.9h.01M164.8,34.1h.01M159.1,44.0h.01M87.5,55.1h.01M97.0,37.8h.01M90.1,42.0h.01M98.9,45.5h.01M167.9,25.7h.01M162.5,38.6h.01M100.7,27.9h.01M162.6,30.9h.01M90.2,31.5h.01M87.4,43.0h.01M161.6,41.7h.01M90.0,27.0h.01M98.1,38.4h.01M94.9,26.5h.01M160.2,44.7h.01M91.1,50.7h.01M86.5,52.2h.01M91.8,23.9h.01M89.5,30.8h.01M97.5,25.0h.01M97.7,50.6h.01M149.6,54.8h.01M98.0,29.0h.01M86.6,46.1h.01M141.6,49.3h.01M160.5,61.5h.01M160.1,53.2h.01M139.8,54.0h.01M163.1,41.4h.01M84.4,44.0h.01M83.8,52.1h.01M156.8,56.9h.01M166.4,22.6h.01M139.7,32.1h.01M86.7,44.1h.01M154.1,43.5h.01M89.2,41.2h.01M161.2,28.8h.01M92.7,44.5h.01M158.7,46.7h.01M165.8,24.1h.01M91.4,37.5h.01M96.3,23.2h.01M158.2,29.0h.01M136.2,54.8h.01M91.2,32.0h.01M166.5,22.5h.01M160.3,39.3h.01M85.8,52.7h.01M153.4,26.4h.01M161.9,28.5h.01M159.3,50.4h.01M164.0,32.7h.01M94.6,48.8h.01M157.9,39.4h.01M150.6,49.5h.01M92.1,25.2h.01M91.0,38.8h.01M154.5,58.2h.01M88.9,33.1h.01M153.5,48.1h.01M157.0,37.6h.01M129.2,32.4h.01M153.4,50.6h.01M168.6,23.4h.01M154.0,42.0h.01M90.5,25.3h.01M122.6,43.7h.01M165.0,37.9h.01M88.2,33.4h.01M86.1,39.8h.01M86.9,47.5h.01M90.5,48.5h.01M162.9,30.0h.01M130.6,53.9h.01M104.1,37.8h.01M98.2,34.0h.01M92.3,43.1h.01M88.2,42.1h.01M161.8,47.3h.01M94.0,25.5h.01M160.4,49.6h.01M160.2,32.2h.01M125.8,26.8h.01M157.3,60.2h.01M152.7,47.8h.01M84.3,59.0h.01M161.7,22.8h.01M153.7,57.2h.01M158.3,47.2h.01M99.9,48.8h.01M139.9,52.1h.01M142.7,48.4h.01M147.7,52.8h.01M133.5,54.1h.01M111.2,45.4h.01M135.6,51.3h.01M116.1,51.6h.01M80.8,57.3h.01M128.0,48.5h.01M97.9,49.3h.01M106.0,52.0h.01M130.8,48.9h.01M110.0,51.4h.01M157.0,57.2h.01M138.7,50.1h.01M155.5,54.6h.01M136.9,54.7h.01M99.8,54.5h.01M95.0,56.1h.01M108.9,51.0h.01M149.7,57.3h.01M122.4,40.5h.01M123.7,53.0h.01M142.7,74.3h.01M132.9,71.0h.01M121.7,75.1h.01M92.4,76.1h.01M98.5,73.3h.01M99.0,73.5h.01M122.4,70.9h.01M140.1,73.0h.01M117.9,74.1h.01M109.4,72.2h.01M124.7,73.9h.01M105.0,74.8h.01M105.7,70.6h.01M103.0,70.8h.01M98.3,75.0h.01M110.7,75.9h.01M129.7,70.8h.01M142.4,76.2h.01M93.9,75.9h.01M112.8,73.4h.01M141.6,72.0h.01M117.7,76.1h.01M134.2,68.7h.01M153.4,72.4h.01M125.3,65.6h.01M126.8,68.1h.01M95.3,65.5h.01M119.6,65.3h.01M113.2,68.7h.01M114.2,65.9h.01M123.7,67.6h.01M138.3,69.4h.01M154.8,73.5h.01M135.1,67.1h.01M88.5,71.9h.01M138.8,70.1h.01M105.5,94.9h.01M133.2,103.4h.01M139.0,92.5h.01M152.8,112.5h.01M78.4,88.8h.01M98.0,99.3h.01M128.0,90.0h.01M121.0,89.1h.01M82.3,106.6h.01M92.9,97.0h.01M138.3,111.3h.01M81.3,90.5h.01M143.8,105.1h.01M140.3,93.2h.01M143.8,97.7h.01M83.2,112.4h.01M81.7,89.4h.01M133.3,95.7h.01M140.9,89.2h.01M81.9,95.8h.01M136.6,107.1h.01M99.0,91.1h.01M75.3,115.7h.01M157.2,118.4h.01M77.5,129.6h.01M156.4,126.6h.01M76.7,134.8h.01M159.5,135.4h.01M76.6,147.4h.01M160.0,144.2h.01M74.0,153.2h.01M158.3,153.3h.01M72.8,163.4h.01M154.3,163.2h.01M74.4,172.4h.01M154.7,173.6h.01M73.8,179.7h.01M154.1,181.1h.01M71.7,190.4h.01M148.6,190.9h.01M71.7,196.4h.01M150.5,200.7h.01M68.1,205.5h.01M149.7,210.4h.01M67.0,217.8h.01M152.9,218.5h.01M68.0,224.5h.01M152.8,227.6h.01M66.6,236.6h.01M152.3,234.0h.01M67.4,245.0h.01M151.9,244.2h.01M65.9,254.2h.01M149.8,252.5h.01M65.6,263.0h.01M150.1,263.8h.01M65.5,273.3h.01M149.6,271.8h.01M64.3,281.3h.01M150.4,279.5h.01M64.2,286.9h.01M150.9,291.9h.01M64.6,296.0h.01M153.7,297.5h.01M64.8,309.8h.01M154.6,305.9h.01M64.3,316.9h.01M151.2,314.1h.01M64.2,324.8h.01M152.3,327.5h.01M63.9,331.7h.01M154.4,332.3h.01M64.4,344.3h.01M152.5,341.3h.01M75.3,116.7h.01M75.4,126.5h.01M75.9,132.3h.01M77.5,138.9h.01M74.8,148.3h.01M76.9,152.1h.01M75.0,162.7h.01M74.3,165.3h.01M72.0,176.7h.01M74.4,180.3h.01M72.6,188.1h.01M70.9,197.9h.01M125.8,361.4h.01M65.0,377.6h.01M98.9,400.0h.01M131.0,386.8h.01M78.8,355.8h.01M145.7,380.6h.01M123.9,413.5h.01M143.5,401.7h.01M71.7,363.6h.01M131.4,351.7h.01M109.1,377.3h.01M153.8,385.5h.01M144.6,365.9h.01M138.2,373.8h.01M150.2,351.3h.01M141.7,359.4h.01M115.1,381.3h.01M78.8,402.4h.01M71.1,366.1h.01M107.9,394.3h.01M73.9,372.2h.01M107.4,411.7h.01M142.0,390.1h.01M65.2,371.0h.01M130.7,361.4h.01M117.0,376.6h.01M139.1,359.3h.01M121.9,365.0h.01M132.8,367.7h.01M152.8,383.8h.01M132.0,367.9h.01M141.7,351.4h.01M77.2,351.5h.01M127.7,393.9h.01M142.7,385.9h.01M72.5,360.6h.01M78.8,353.6h.01M150.5,374.5h.01M112.1,389.7h.01M136.1,401.7h.01M156.3,399.5h.01M126.1,387.0h.01M65.7,367.8h.01M74.0,371.1h.01M111.9,399.4h.01M141.6,387.2h.01M148.9,382.8h.01M156.8,380.6h.01M131.2,402.7h.01M82.5,410.2h.01M66.6,390.9h.01M65.4,395.3h.01M68.8,391.7h.01M70.3,392.5h.01M72.4,394.2h.01M73.2,393.1h.01M74.7,392.3h.01M77.5,394.5h.01M78.2,394.8h.01M80.4,395.6h.01M80.9,395.0h.01M81.0,395.1h.01M82.1,392.7h.01M85.6,394.6h.01M85.6,398.0h.01M86.8,394.4h.01M88.3,393.0h.01M90.6,393.7h.01M92.7,394.2h.01M93.5,396.4h.01M95.5,392.4h.01M96.7,395.6h.01M99.3,393.5h.01M101.7,394.5h.01M103.5,395.2h.01M106.1,392.8h.01M105.8,397.7h.01M107.7,392.9h.01M109.2,395.1h.01M109.0,393.3h.01M112.1,392.4h.01M113.5,392.0h.01M112.3,394.4h.01M115.9,390.8h.01M116.6,394.3h.01M117.5,389.9h.01M116.9,391.9h.01M120.6,391.7h.01M122.6,389.2h.01M123.6,389.7h.01M126.8,386.6h.01M127.6,387.5h.01M129.5,385.6h.01M129.6,387.8h.01M133.0,386.8h.01M131.8,389.0h.01M133.7,383.1h.01M136.1,383.8h.01M139.3,382.7h.01M137.7,387.5h.01M141.2,380.7h.01M142.4,380.6h.01M144.2,385.6h.01M144.2,380.0h.01M146.2,380.7h.01M146.1,379.1h.01M148.4,382.8h.01M149.2,375.8h.01M151.6,375.6h.01M149.8,378.0h.01M153.3,373.3h.01M151.9,378.1h.01M155.5,372.5h.01M68.1,414.8h.01M69.6,420.2h.01M63.8,425.7h.01M74.7,418.5h.01M68.8,422.9h.01M63.7,414.6h.01M69.7,418.8h.01M66.8,424.4h.01M75.3,422.0h.01M72.9,424.9h.01M78.2,420.3h.01M72.1,420.5h.01M76.7,423.5h.01M82.2,418.3h.01M74.7,422.4h.01M85.4,422.7h.01M68.3,417.8h.01M67.9,419.3h.01M79.5,421.4h.01M78.8,424.0h.01M66.6,412.4h.01M61.6,417.9h.01M118.9,418.7h.01M109.5,420.5h.01M99.0,421.0h.01M126.3,419.2h.01M138.5,417.7h.01M103.0,418.1h.01M97.3,418.1h.01M129.2,419.1h.01M109.6,419.4h.01M99.9,420.6h.01M104.4,417.8h.01M103.8,420.0h.01M140.7,420.4h.01M98.4,418.6h.01M120.0,426.8h.01M153.4,424.5h.01M154.2,425.9h.01M102.2,427.1h.01M149.0,425.8h.01M121.6,427.9h.01M123.3,425.0h.01M142.0,433.5h.01M112.6,427.3h.01M130.4,427.1h.01M120.0,428.4h.01M154.0,431.9h.01M102.6,455.4h.01M94.8,450.2h.01M54.6,460.3h.01M74.3,452.2h.01M75.8,457.7h.01M63.5,450.0h.01M158.9,458.0h.01M127.3,450.2h.01M128.0,449.4h.01M63.1,463.6h.01M108.2,448.5h.01M63.7,446.2h.01M67.8,440.8h.01M122.0,446.8h.01M67.1,443.8h.01M97.4,447.3h.01M79.8,450.0h.01M84.9,461.0h.01M77.0,457.4h.01M153.8,457.9h.01M53.6,462.6h.01M59.9,456.4h.01M82.3,444.3h.01M63.6,442.4h.01M111.8,455.1h.01M55.4,458.2h.01M155.7,455.2h.01M65.4,440.6h.01M160.7,463.2h.01M92.4,456.0h.01M134.0,455.0h.01M97.3,456.3h.01M62.9,450.8h.01M61.5,449.9h.01M61.5,457.7h.01M111.2,452.8h.01M150.5,456.2h.01M71.7,448.7h.01M53.7,463.0h.01M140.2,457.9h.01M105.5,444.1h.01M148.5,454.7h.01M109.6,447.4h.01M68.4,441.6h.01M153.7,460.1h.01M62.2,462.6h.01M59.3,458.6h.01M58.7,458.6h.01M113.8,461.9h.01M118.4,450.9h.01M66.3,461.6h.01M80.3,449.8h.01M68.3,444.8h.01M154.3,455.2h.01M98.9,443.5h.01M141.9,456.4h.01M72.2,441.3h.01M68.4,441.1h.01M66.6,459.0h.01M64.6,448.6h.01M83.4,460.8h.01M132.2,450.2h.01M159.8,465.5h.01M59.7,460.8h.01M63.8,444.6h.01M56.0,456.3h.01M64.5,441.3h.01M55.0,463.2h.01M76.8,452.6h.01M159.3,462.5h.01M96.2,450.8h.01M155.6,465.9h.01M71.7,461.7h.01M63.0,440.7h.01M88.0,449.3h.01M135.8,453.7h.01M155.9,459.1h.01" fill="none" stroke="#3a3a3a" stroke-width="1.9" stroke-linecap="round"/>
</g>
</svg>
</body></html>
